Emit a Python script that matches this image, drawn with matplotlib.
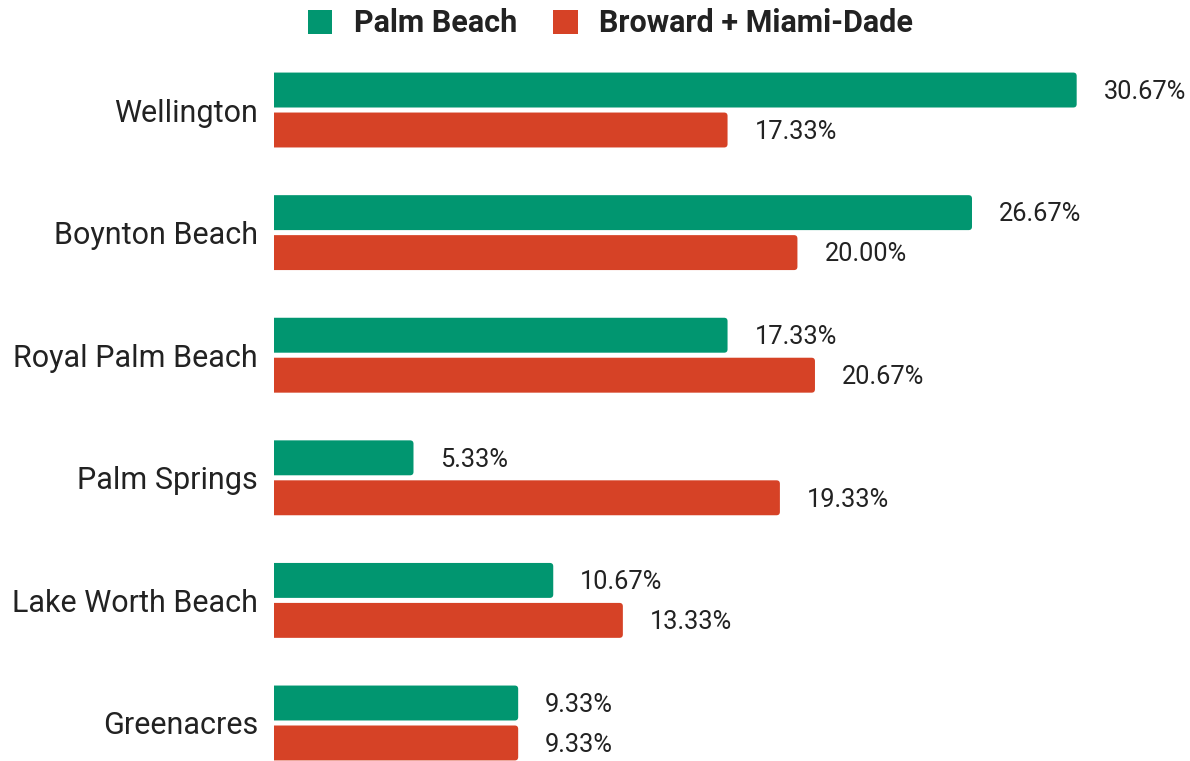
import matplotlib.pyplot as plt
import numpy as np
from matplotlib.patches import Patch, FancyBboxPatch

plt.rcParams['font.family'] = ['Roboto', 'DejaVu Sans']

# Data
cities = ['Wellington', 'Boynton Beach', 'Royal Palm Beach', 'Palm Springs',
          'Lake Worth Beach', 'Greenacres']
palm_beach = [30.67, 26.67, 17.33, 5.33, 10.67, 9.33]
broward_miami = [17.33, 20.00, 20.67, 19.33, 13.33, 9.33]
series_names = ['Palm Beach', 'Broward + Miami-Dade']

green = '#019670'
red = '#D64226'
text_col = '#222222'

fig = plt.figure(figsize=(11.9, 7.61), dpi=100)
ax = fig.add_axes([274 / 1190, 0, 1 - 274 / 1190, 1 - 60 / 761])

y = np.arange(len(cities))
h = 0.285
off = 0.163
bars_pb = ax.barh(y - off, palm_beach, height=h, color=green)
bars_bm = ax.barh(y + off, broward_miami, height=h, color=red)

# swap plain rectangles for ones with slightly rounded ends
for bars, col in [(bars_pb, green), (bars_bm, red)]:
    for r in bars:
        x0, y0, w, hh = r.get_x(), r.get_y(), r.get_width(), r.get_height()
        r.set_visible(False)
        p = FancyBboxPatch((x0 - 0.3, y0), w + 0.3, hh,
                           boxstyle='round,pad=0,rounding_size=0.13',
                           mutation_aspect=26.18 / 122.6,
                           facecolor=col, edgecolor='none')
        ax.add_patch(p)

# Value labels
for yi, v in zip(y - off, palm_beach):
    ax.text(v + 1.03, yi + 0.015, f'{v:.2f}%', va='center', ha='left', fontsize=18.3, color=text_col)
for yi, v in zip(y + off, broward_miami):
    ax.text(v + 1.03, yi + 0.015, f'{v:.2f}%', va='center', ha='left', fontsize=18.3, color=text_col)

ax.set_xlim(0, 35)
ax.set_ylim(5.31, -0.408)
ax.set_yticks(y)
ax.set_yticklabels(cities, fontsize=22, color=text_col)
ax.tick_params(axis='y', length=0, pad=11.5)
ax.set_xticks([])
for s in ax.spines.values():
    s.set_visible(False)

handles = [Patch(facecolor=green, label=series_names[0]),
           Patch(facecolor=red, label=series_names[1])]
leg = fig.legend(handles=handles, loc='upper center', bbox_to_anchor=(0.513, 1.025),
                 ncol=2, frameon=False, handlelength=0.8, handleheight=0.8,
                 handletextpad=0.7, columnspacing=1.2,
                 prop={'weight': 'bold', 'size': 22})
for t in leg.get_texts():
    t.set_color(text_col)

fig.savefig('out.png', dpi=100)
